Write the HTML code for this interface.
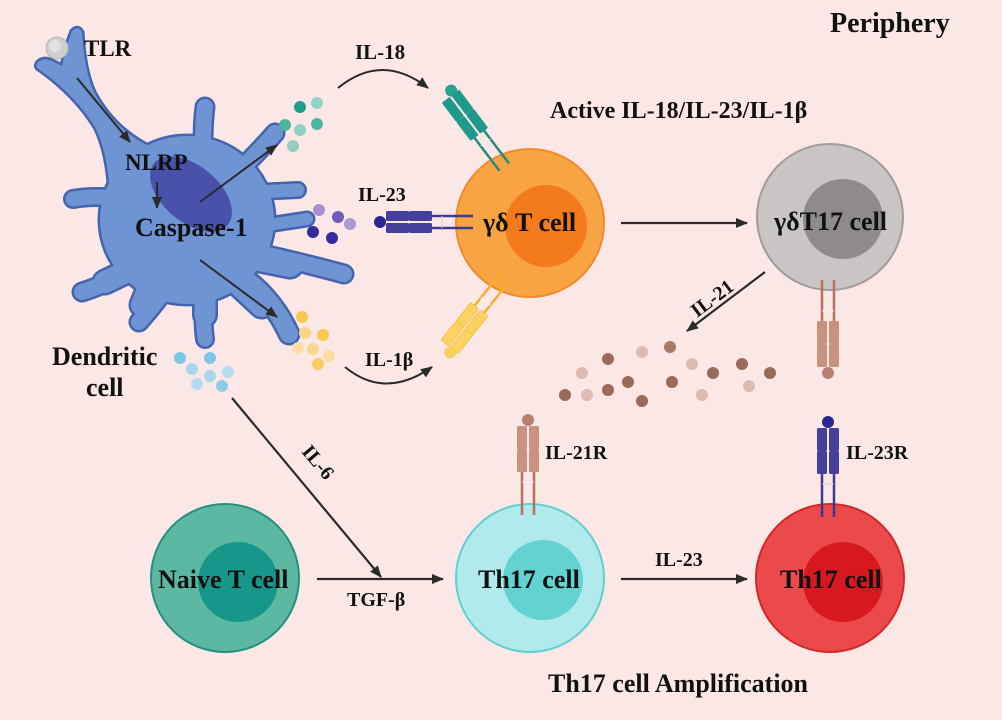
<!DOCTYPE html>
<html><head><meta charset="utf-8"><style>
html,body{margin:0;padding:0;background:#fce7e7;}
svg{display:block;}
text{font-family:"Liberation Serif",serif;font-weight:bold;fill:#111;}
</style></head><body>
<svg width="1002" height="720" viewBox="0 0 1002 720" xmlns="http://www.w3.org/2000/svg">
<defs>
<marker id="ah" viewBox="0 0 12 10" refX="11" refY="5" markerWidth="12" markerHeight="10" markerUnits="userSpaceOnUse" orient="auto">
<path d="M0,0 L12,5 L0,10 Z" fill="#2a2a2a"/></marker>
</defs>
<rect width="1002" height="720" fill="#fce7e7"/>

<!-- Dendritic cell outline layer -->
<g fill="#4464ae" stroke="#4464ae">
<ellipse cx="187" cy="220" rx="87" ry="84" stroke-width="5"/>
<path d="M38,62 Q44,57 52,61 L62,66 Q66,46 72,31 Q78,25 82,32 Q84,70 94,92 Q110,122 138,140 L155,150 L150,205 L110,197 Q108,152 95,127 Q75,95 40,70 Q34,67 38,62 Z" stroke-width="5" stroke-linejoin="round"/>
<g fill="none" stroke-linecap="round">
<path d="M203,145 Q203,122 205,107" stroke-width="21"/>
<path d="M240,170 Q262,148 275,133" stroke-width="21"/>
<path d="M255,192 L298,190" stroke-width="18"/>
<path d="M255,227 L307,219" stroke-width="17"/>
<path d="M245,250 Q300,262 344,274" stroke-width="21"/>
<path d="M240,275 Q272,297 289,334" stroke-width="23"/>
<path d="M205,290 Q202,318 205,339" stroke-width="20"/>
<path d="M165,290 Q150,310 139,322" stroke-width="21"/>
<path d="M135,268 Q105,285 82,292" stroke-width="21"/>
<path d="M125,199 Q95,195 73,199" stroke-width="20"/>
<path d="M240,255 L290,265" stroke-width="29"/>
<path d="M235,280 L262,305" stroke-width="29"/>
<path d="M150,285 L142,305" stroke-width="27"/>
<path d="M130,270 L105,282" stroke-width="27"/>
<path d="M205,295 L205,315" stroke-width="26"/>
</g>
</g>
<!-- Dendritic cell fill layer -->
<g fill="#6f94d4" stroke="#6f94d4">
<ellipse cx="187" cy="220" rx="87" ry="84" stroke-width="0"/>
<path d="M38,62 Q44,57 52,61 L62,66 Q66,46 72,31 Q78,25 82,32 Q84,70 94,92 Q110,122 138,140 L155,150 L150,205 L110,197 Q108,152 95,127 Q75,95 40,70 Q34,67 38,62 Z" stroke-width="0"/>
<g fill="none" stroke-linecap="round">
<path d="M203,145 Q203,122 205,107" stroke-width="16"/>
<path d="M240,170 Q262,148 275,133" stroke-width="16"/>
<path d="M255,192 L298,190" stroke-width="13"/>
<path d="M255,227 L307,219" stroke-width="12"/>
<path d="M245,250 Q300,262 344,274" stroke-width="16"/>
<path d="M240,275 Q272,297 289,334" stroke-width="18"/>
<path d="M205,290 Q202,318 205,339" stroke-width="15"/>
<path d="M165,290 Q150,310 139,322" stroke-width="16"/>
<path d="M135,268 Q105,285 82,292" stroke-width="16"/>
<path d="M125,199 Q95,195 73,199" stroke-width="15"/>
<path d="M240,255 L290,265" stroke-width="24"/>
<path d="M235,280 L262,305" stroke-width="24"/>
<path d="M150,285 L142,305" stroke-width="22"/>
<path d="M130,270 L105,282" stroke-width="22"/>
<path d="M205,295 L205,315" stroke-width="21"/>
</g>
</g>
<ellipse cx="191" cy="194" rx="48" ry="28" transform="rotate(40 191 194)" fill="#4852aa"/>
<circle cx="57" cy="48" r="11" fill="#cfcfcf" stroke="#b8b8b8" stroke-width="1"/>
<circle cx="55" cy="46" r="6" fill="#e2e2e2"/>

<!-- DC internal arrows -->
<g stroke="#2a2a2a" stroke-width="2" fill="none" marker-end="url(#ah)">
<line x1="77" y1="78" x2="130" y2="142"/>
<line x1="157" y1="182" x2="157" y2="208"/>
<line x1="200" y1="202" x2="277" y2="145"/>
<line x1="200" y1="260" x2="277" y2="317"/>
</g>

<!-- Cytokine dots -->
<g>
<circle cx="300" cy="107" r="6" fill="#1f9f8c"/>
<circle cx="317" cy="103" r="6" fill="#92d3c4"/>
<circle cx="285" cy="125" r="6" fill="#4db4a0"/>
<circle cx="300" cy="130" r="6" fill="#8fd2c3"/>
<circle cx="317" cy="124" r="6" fill="#4db4a0"/>
<circle cx="293" cy="146" r="6" fill="#8fd0c0"/>

<circle cx="319" cy="210" r="6" fill="#a891d2"/>
<circle cx="338" cy="217" r="6" fill="#6e5cb8"/>
<circle cx="350" cy="224" r="6" fill="#ad98d6"/>
<circle cx="313" cy="232" r="6" fill="#352a9a"/>
<circle cx="332" cy="238" r="6" fill="#352a9a"/>

<circle cx="302" cy="317" r="6" fill="#f8c850"/>
<circle cx="305" cy="333" r="6" fill="#fad588"/>
<circle cx="323" cy="335" r="6" fill="#f8c850"/>
<circle cx="298" cy="348" r="6" fill="#fcdfa4"/>
<circle cx="313" cy="349" r="6" fill="#fad692"/>
<circle cx="329" cy="356" r="6" fill="#fcdca0"/>
<circle cx="318" cy="364" r="6" fill="#f8cc60"/>

<circle cx="180" cy="358" r="6" fill="#7ec6e6"/>
<circle cx="210" cy="358" r="6" fill="#7ec6e6"/>
<circle cx="192" cy="369" r="6" fill="#a8d8ee"/>
<circle cx="210" cy="376" r="6" fill="#a8d8ee"/>
<circle cx="228" cy="372" r="6" fill="#b4dcf0"/>
<circle cx="197" cy="384" r="6" fill="#b4dcf0"/>
<circle cx="222" cy="386" r="6" fill="#8ccce8"/>

<g>
<circle cx="670" cy="347" r="6" fill="#a87868"/>
<circle cx="642" cy="352" r="6" fill="#dcbcb2"/>
<circle cx="608" cy="359" r="6" fill="#9a6a5a"/>
<circle cx="692" cy="364" r="6" fill="#dcbcb2"/>
<circle cx="582" cy="373" r="6" fill="#dcbcb2"/>
<circle cx="713" cy="373" r="6" fill="#9a6a5a"/>
<circle cx="742" cy="364" r="6" fill="#9a6a5a"/>
<circle cx="770" cy="373" r="6" fill="#9a6a5a"/>
<circle cx="628" cy="382" r="6" fill="#9a6a5a"/>
<circle cx="672" cy="382" r="6" fill="#9a6a5a"/>
<circle cx="749" cy="386" r="6" fill="#dcbcb2"/>
<circle cx="608" cy="390" r="6" fill="#9a6a5a"/>
<circle cx="565" cy="395" r="6" fill="#9a6a5a"/>
<circle cx="587" cy="395" r="6" fill="#dcbcb2"/>
<circle cx="702" cy="395" r="6" fill="#dcbcb2"/>
<circle cx="642" cy="401" r="6" fill="#9a6a5a"/>
</g>
</g>

<!-- Curved arrows -->
<g stroke="#2a2a2a" stroke-width="2" fill="none" marker-end="url(#ah)">
<path d="M338,88 Q382,52 428,88"/>
<path d="M345,367 Q385,400 432,367"/>
</g>

<!-- Cells -->
<circle cx="530" cy="223" r="74" fill="#f9a443" stroke="#f08a2a" stroke-width="2"/>
<circle cx="546" cy="226" r="41" fill="#f47a1e"/>

<circle cx="830" cy="217" r="73" fill="#c9c5c5" stroke="#a09c9c" stroke-width="2"/>
<circle cx="843" cy="219" r="40" fill="#8f8b8b"/>

<circle cx="225" cy="578" r="74" fill="#5db8a2" stroke="#239080" stroke-width="2"/>
<circle cx="238" cy="582" r="40" fill="#17978a"/>

<circle cx="530" cy="578" r="74" fill="#b0eaec" stroke="#5fcfcf" stroke-width="2"/>
<circle cx="543" cy="580" r="40" fill="#62d2d2"/>

<circle cx="830" cy="578" r="74" fill="#ec4a4a" stroke="#d42828" stroke-width="2"/>
<circle cx="843" cy="582" r="40" fill="#d81820"/>

<!-- Receptors -->
<g transform="translate(448,93) rotate(52.8)">
<line x1="50" y1="-6" x2="93" y2="-6" stroke="#2a8a7a" stroke-width="2.5"/>
<line x1="50" y1="6" x2="93" y2="6" stroke="#2a8a7a" stroke-width="2.5"/>
<line x1="62" y1="-6" x2="62" y2="6" stroke="#cfe" stroke-width="1"/>
<circle cx="0" cy="-4" r="6" fill="#2aa090"/>
<rect x="4" y="-11" width="24" height="10" rx="1.5" fill="#1f9a8a"/>
<rect x="28" y="-11" width="24" height="10" rx="1.5" fill="#1f9a8a"/>
<rect x="4" y="1" width="24" height="10" rx="1.5" fill="#1f9a8a"/>
<rect x="28" y="1" width="24" height="10" rx="1.5" fill="#1f9a8a"/>
</g>
<g transform="translate(380,222)">
<line x1="50" y1="-6" x2="93" y2="-6" stroke="#3d3a95" stroke-width="2.5"/>
<line x1="50" y1="6" x2="93" y2="6" stroke="#3d3a95" stroke-width="2.5"/>
<line x1="62" y1="-6" x2="62" y2="6" stroke="#ccc" stroke-width="1"/>
<circle cx="0" cy="0" r="6" fill="#2a2890"/>
<rect x="6" y="-11" width="23" height="10" rx="1.5" fill="#433f9a"/>
<rect x="29" y="-11" width="23" height="10" rx="1.5" fill="#433f9a"/>
<rect x="6" y="1" width="23" height="10" rx="1.5" fill="#433f9a"/>
<rect x="29" y="1" width="23" height="10" rx="1.5" fill="#433f9a"/>
</g>
<g transform="translate(447,350) rotate(-51.5)">
<line x1="50" y1="-6" x2="93" y2="-6" stroke="#f0b030" stroke-width="2.5"/>
<line x1="50" y1="6" x2="93" y2="6" stroke="#f0b030" stroke-width="2.5"/>
<line x1="62" y1="-6" x2="62" y2="6" stroke="#fff" stroke-width="1"/>
<circle cx="0" cy="4" r="6" fill="#f8d060"/>
<rect x="4" y="-11" width="24" height="10" rx="1.5" fill="#fad260" stroke="#f0c040" stroke-width="0.8"/>
<rect x="28" y="-11" width="24" height="10" rx="1.5" fill="#fad260" stroke="#f0c040" stroke-width="0.8"/>
<rect x="4" y="1" width="24" height="10" rx="1.5" fill="#fad260" stroke="#f0c040" stroke-width="0.8"/>
<rect x="28" y="1" width="24" height="10" rx="1.5" fill="#fad260" stroke="#f0c040" stroke-width="0.8"/>
</g>
<!-- γδT17 receptor -->
<g transform="translate(828,373) rotate(-90)">
<line x1="50" y1="-6" x2="93" y2="-6" stroke="#b87060" stroke-width="2.5"/>
<line x1="50" y1="6" x2="93" y2="6" stroke="#b87060" stroke-width="2.5"/>
<line x1="62" y1="-6" x2="62" y2="6" stroke="#eee" stroke-width="1"/>
<circle cx="0" cy="0" r="6" fill="#b88070"/>
<rect x="6" y="-11" width="23" height="10" rx="1.5" fill="#c8927e"/>
<rect x="29" y="-11" width="23" height="10" rx="1.5" fill="#c8927e"/>
<rect x="6" y="1" width="23" height="10" rx="1.5" fill="#c8927e"/>
<rect x="29" y="1" width="23" height="10" rx="1.5" fill="#c8927e"/>
</g>
<!-- IL-21R -->
<g transform="translate(528,420) rotate(90)">
<line x1="50" y1="-6" x2="95" y2="-6" stroke="#b87060" stroke-width="2.5"/>
<line x1="50" y1="6" x2="95" y2="6" stroke="#b87060" stroke-width="2.5"/>
<line x1="62" y1="-6" x2="62" y2="6" stroke="#eee" stroke-width="1"/>
<circle cx="0" cy="0" r="6" fill="#b88070"/>
<rect x="6" y="-11" width="23" height="10" rx="1.5" fill="#c8927e"/>
<rect x="29" y="-11" width="23" height="10" rx="1.5" fill="#c8927e"/>
<rect x="6" y="1" width="23" height="10" rx="1.5" fill="#c8927e"/>
<rect x="29" y="1" width="23" height="10" rx="1.5" fill="#c8927e"/>
</g>
<!-- IL-23R -->
<g transform="translate(828,422) rotate(90)">
<line x1="50" y1="-6" x2="95" y2="-6" stroke="#3d3a95" stroke-width="2.5"/>
<line x1="50" y1="6" x2="95" y2="6" stroke="#3d3a95" stroke-width="2.5"/>
<line x1="62" y1="-6" x2="62" y2="6" stroke="#ccc" stroke-width="1"/>
<circle cx="0" cy="0" r="6" fill="#2a2890"/>
<rect x="6" y="-11" width="23" height="10" rx="1.5" fill="#433f9a"/>
<rect x="29" y="-11" width="23" height="10" rx="1.5" fill="#433f9a"/>
<rect x="6" y="1" width="23" height="10" rx="1.5" fill="#433f9a"/>
<rect x="29" y="1" width="23" height="10" rx="1.5" fill="#433f9a"/>
</g>

<!-- Straight arrows -->
<g stroke="#2a2a2a" stroke-width="2.2" fill="none" marker-end="url(#ah)">
<line x1="621" y1="223" x2="747" y2="223"/>
<line x1="317" y1="579" x2="443" y2="579"/>
<line x1="621" y1="579" x2="747" y2="579"/>
<line x1="232" y1="398" x2="381" y2="577"/>
<line x1="765" y1="272" x2="687" y2="331"/>
</g>

<!-- Text -->
<text x="830" y="32" font-size="28">Periphery</text>
<text x="84" y="56" font-size="23">TLR</text>
<text x="125" y="170" font-size="23">NLRP</text>
<text x="135" y="236" font-size="26">Caspase-1</text>
<text x="52" y="365" font-size="26">Dendritic</text>
<text x="86" y="396" font-size="26">cell</text>
<text x="355" y="59" font-size="21">IL-18</text>
<text x="358" y="201" font-size="20">IL-23</text>
<text x="365" y="366" font-size="20">IL-1β</text>
<text x="483" y="231" font-size="26">γδ T cell</text>
<text x="550" y="118" font-size="24">Active IL-18/IL-23/IL-1β</text>
<text x="774" y="230" font-size="26">γδT17 cell</text>
<text x="0" y="0" font-size="20" transform="translate(697,318) rotate(-37)">IL-21</text>
<text x="0" y="0" font-size="20" transform="translate(301,452) rotate(50)">IL-6</text>
<text x="545" y="459" font-size="20">IL-21R</text>
<text x="846" y="459" font-size="20">IL-23R</text>
<text x="158" y="588" font-size="26">Naive T cell</text>
<text x="347" y="606" font-size="20">TGF-β</text>
<text x="478" y="588" font-size="26">Th17 cell</text>
<text x="655" y="566" font-size="20">IL-23</text>
<text x="780" y="588" font-size="26">Th17 cell</text>
<text x="548" y="692" font-size="26">Th17 cell Amplification</text>
</svg>
</body></html>
